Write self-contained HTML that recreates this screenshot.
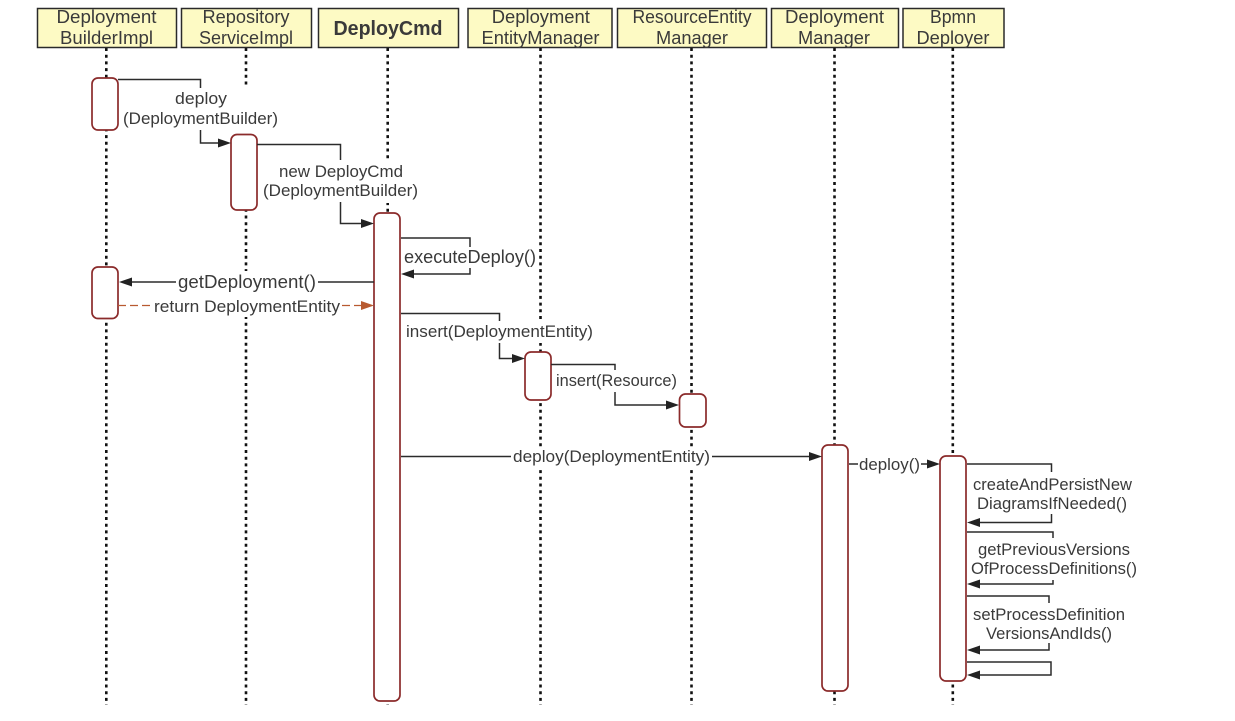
<!DOCTYPE html>
<html><head><meta charset="utf-8"><style>
html,body{margin:0;padding:0;background:#fff}
svg{display:block}
text{font-family:"Liberation Sans",sans-serif;fill:#3a3a3a;text-anchor:middle}
.h{font-size:18px}.m{font-size:16.5px}.b{font-size:18.5px}
.box{fill:#fdfac4;stroke:#2a2a2a;stroke-width:1.5}
.life{stroke:#111;stroke-width:2.6;stroke-dasharray:3 3.7;fill:none}
.act{fill:#fff;stroke:#8b2b2b;stroke-width:1.7}
.c{fill:none;stroke:#2b2b2b;stroke-width:1.5}
.a{fill:#222}
.bg{fill:#fff}
</style></head><body>
<svg width="1235" height="721" viewBox="0 0 1235 721" xmlns="http://www.w3.org/2000/svg">
<rect width="1235" height="721" fill="#fff"/>
<path class="life" d="M106.300 48V705"/><path class="life" d="M246 48V705"/><path class="life" d="M387.700 48V705"/><path class="life" d="M540.500 48V705"/><path class="life" d="M691.500 48V705"/><path class="life" d="M834.500 48V705"/><path class="life" d="M952.800 48V705"/>
<!-- header boxes -->
<rect class="box" x="37.500" y="8.500" width="139" height="39"/>
<rect class="box" x="181.500" y="8.500" width="130" height="39"/>
<rect class="box" x="318.500" y="8.500" width="140" height="39"/>
<rect class="box" x="468" y="8.500" width="144" height="39"/>
<rect class="box" x="617.500" y="8.500" width="149" height="39"/>
<rect class="box" x="771.500" y="8.500" width="127" height="39"/>
<rect class="box" x="903" y="8.500" width="101" height="39"/>
<text class="h" x="106.500" y="23" textLength="100" lengthAdjust="spacingAndGlyphs">Deployment</text>
<text class="h" x="106.500" y="44" textLength="93" lengthAdjust="spacingAndGlyphs">BuilderImpl</text>
<text class="h" x="246" y="23" textLength="87" lengthAdjust="spacingAndGlyphs">Repository</text>
<text class="h" x="246" y="44" textLength="94" lengthAdjust="spacingAndGlyphs">ServiceImpl</text>
<text x="388" y="35" font-size="20.500" font-weight="bold" textLength="109" lengthAdjust="spacingAndGlyphs">DeployCmd</text>
<text class="h" x="540.800" y="23" textLength="98" lengthAdjust="spacingAndGlyphs">Deployment</text>
<text class="h" x="540.500" y="44" textLength="118" lengthAdjust="spacingAndGlyphs">EntityManager</text>
<text class="h" x="692" y="23" textLength="119" lengthAdjust="spacingAndGlyphs">ResourceEntity</text>
<text class="h" x="692" y="44" textLength="72" lengthAdjust="spacingAndGlyphs">Manager</text>
<text class="h" x="834.500" y="23" textLength="99" lengthAdjust="spacingAndGlyphs">Deployment</text>
<text class="h" x="834" y="44" textLength="72" lengthAdjust="spacingAndGlyphs">Manager</text>
<text class="h" x="953" y="23" textLength="46" lengthAdjust="spacingAndGlyphs">Bpmn</text>
<text class="h" x="953" y="44" textLength="73" lengthAdjust="spacingAndGlyphs">Deployer</text>
<!-- label backgrounds -->
<rect class="bg" x="122" y="88" width="158" height="44"/>
<rect class="bg" x="262" y="160" width="158" height="43"/>
<rect class="bg" x="403" y="247" width="135" height="21"/>
<rect class="bg" x="176" y="271" width="142" height="46"/>
<rect class="bg" x="404" y="321" width="191" height="22"/>
<rect class="bg" x="554" y="370" width="125" height="21"/>
<rect class="bg" x="511" y="447" width="201" height="20"/>
<!-- activations -->
<rect class="act" x="92" y="78" width="26" height="52" rx="6"/>
<rect class="act" x="231" y="134.500" width="26" height="75.500" rx="6"/>
<rect class="act" x="374" y="213" width="26" height="488" rx="6"/>
<rect class="act" x="92" y="267" width="26" height="51.500" rx="6"/>
<rect class="act" x="525" y="352" width="26" height="48" rx="6"/>
<rect class="act" x="679.500" y="394" width="26.500" height="33" rx="6"/>
<rect class="act" x="822" y="445" width="26" height="246" rx="6"/>
<rect class="act" x="940" y="456" width="26" height="225" rx="6"/>
<!-- connectors -->
<path class="c" d="M118 79.500H200.500V88M200.500 130V143H219"/><path class="a" d="M231 143l-13-4.500v9z"/>
<path class="c" d="M257 144.500H340.500V160M340.500 202V223.500H362"/><path class="a" d="M374 223.500l-13-4.500v9z"/>
<path class="c" d="M401 238H470V247M470 268V274H413"/><path class="a" d="M401 274l13-4.500v9z"/>
<path class="c" d="M176 282H131M318 282H374"/><path class="a" d="M119 282l13-4.500v9z"/>
<path fill="none" stroke="#b85a30" stroke-width="1.200" stroke-dasharray="8 4" d="M118 305.500H152M342 305.500H362"/><path fill="#b85a30" d="M374 305.500l-13-4.500v9z"/>
<path class="c" d="M401 313.500H499.500V321M499.500 343V358.500H513"/><path class="a" d="M525 358.500l-13-4.500v9z"/>
<path class="c" d="M551 364.500H615V370M615 392V405H667"/><path class="a" d="M679 405l-13-4.500v9z"/>
<path class="c" d="M401 456.500H511M712 456.500H810"/><path class="a" d="M822 456.500l-13-4.500v9z"/>
<path class="c" d="M849 464H858M921 464H928"/><path class="a" d="M940 464l-13-4.500v9z"/>
<path class="c" d="M967 464H1051.500V472M1051.500 514V522.500H979"/><path class="a" d="M967 522.500l13-4.500v9z"/>
<path class="c" d="M967 532H1053V538M1053 580V584H979"/><path class="a" d="M967 584l13-4.500v9z"/>
<path class="c" d="M967 596H1049V603M1049 643V650H979"/><path class="a" d="M967 650l13-4.500v9z"/>
<path class="c" d="M967 662H1051V675H979"/><path class="a" d="M967 675l13-4.500v9z"/>
<!-- message labels -->
<text class="m" x="201" y="104" textLength="52" lengthAdjust="spacingAndGlyphs">deploy</text>
<text class="m" x="200.500" y="124" textLength="155" lengthAdjust="spacingAndGlyphs">(DeploymentBuilder)</text>
<text class="m" x="341" y="177" textLength="124" lengthAdjust="spacingAndGlyphs">new DeployCmd</text>
<text class="m" x="340.500" y="196" textLength="155" lengthAdjust="spacingAndGlyphs">(DeploymentBuilder)</text>
<text class="b" x="470" y="263" textLength="132" lengthAdjust="spacingAndGlyphs">executeDeploy()</text>
<text class="b" x="247" y="288" textLength="138" lengthAdjust="spacingAndGlyphs">getDeployment()</text>
<text class="m" x="247" y="312" textLength="186" lengthAdjust="spacingAndGlyphs">return DeploymentEntity</text>
<text class="m" x="499.500" y="337" textLength="187" lengthAdjust="spacingAndGlyphs">insert(DeploymentEntity)</text>
<text class="m" x="616.500" y="386" textLength="121" lengthAdjust="spacingAndGlyphs">insert(Resource)</text>
<text class="b" x="611.500" y="462" textLength="197" lengthAdjust="spacingAndGlyphs" style="font-size:17px">deploy(DeploymentEntity)</text>
<text class="m" x="889.500" y="470" textLength="61" lengthAdjust="spacingAndGlyphs">deploy()</text>
<text class="m" x="1052.500" y="490" textLength="159" lengthAdjust="spacingAndGlyphs">createAndPersistNew</text>
<text class="m" x="1052" y="509" textLength="150" lengthAdjust="spacingAndGlyphs">DiagramsIfNeeded()</text>
<text class="m" x="1054" y="555" textLength="152" lengthAdjust="spacingAndGlyphs">getPreviousVersions</text>
<text class="m" x="1054" y="574" textLength="166" lengthAdjust="spacingAndGlyphs">OfProcessDefinitions()</text>
<text class="m" x="1049" y="620" textLength="152" lengthAdjust="spacingAndGlyphs">setProcessDefinition</text>
<text class="m" x="1049" y="639" textLength="126" lengthAdjust="spacingAndGlyphs">VersionsAndIds()</text>
</svg>
</body></html>
